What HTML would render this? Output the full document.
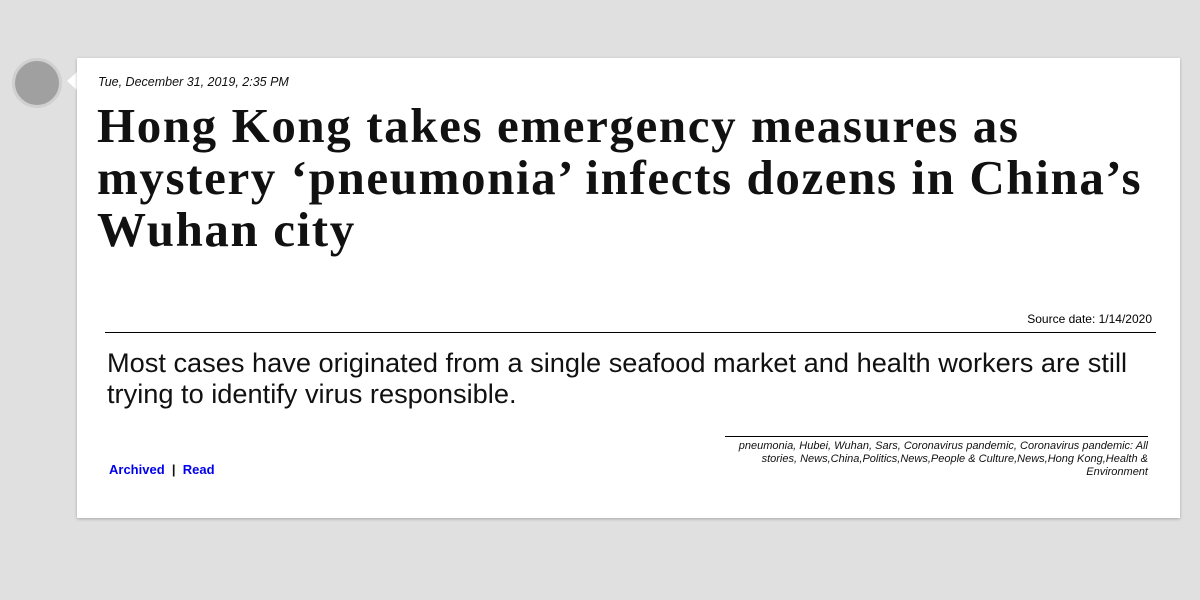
<!DOCTYPE html>
<html><head><meta charset="utf-8"><style>
body{margin:0;width:1200px;height:600px;background:#e0e0e0;position:relative;overflow:hidden;font-family:"Liberation Sans",Arial,sans-serif}
.card{position:absolute;left:77px;top:58px;width:1103px;height:460px;background:#fff;box-shadow:0 1px 3px rgba(0,0,0,.25)}
.avatar{position:absolute;left:12px;top:58px;width:44px;height:44px;border-radius:50%;background:#a0a0a0;border:3px solid #d0d0d0;box-sizing:content-box}
.ptr{position:absolute;left:67px;top:72px;width:0;height:0;border-top:9px solid transparent;border-bottom:9px solid transparent;border-right:10px solid #fff}
.date{position:absolute;left:21px;top:17px;font-style:italic;font-size:12.5px;color:#111}
h1{position:absolute;left:20px;top:42px;margin:0;font-family:"Liberation Serif",serif;font-weight:bold;font-size:49px;letter-spacing:1.6px;line-height:52px;color:#111;width:1080px}
.src{position:absolute;right:28px;top:254px;font-size:12px;color:#000}
.rule{position:absolute;left:28px;right:24px;top:274px;border-top:1px solid #000}
.sum{position:absolute;left:30px;top:289px;width:1050px;font-size:27.2px;line-height:31px;color:#111}
.tags{position:absolute;left:648px;width:423px;top:378px;border-top:1px solid #000;padding-top:3px;text-align:right;font-style:italic;font-size:11px;line-height:13px;color:#111}
.links{position:absolute;left:32px;top:404px;font-size:13px;font-weight:bold;color:#111}
.links a{color:#0000ee;text-decoration:none}
</style></head><body>
<div class="avatar"></div>
<div class="ptr"></div>
<div class="card">
<div class="date">Tue, December 31, 2019, 2:35 PM</div>
<h1>Hong Kong takes emergency measures as<br>mystery ‘pneumonia’ infects dozens in China’s<br>Wuhan city</h1>
<div class="src">Source date: 1/14/2020</div>
<div class="rule"></div>
<div class="sum">Most cases have originated from a single seafood market and health workers are still<br>trying to identify virus responsible.</div>
<div class="tags">pneumonia, Hubei, Wuhan, Sars, Coronavirus pandemic, Coronavirus pandemic: All stories, News,China,Politics,News,People &amp; Culture,News,Hong Kong,Health &amp; Environment</div>
<div class="links"><a href="#">Archived</a>&nbsp; | &nbsp;<a href="#">Read</a></div>
</div>
</body></html>
